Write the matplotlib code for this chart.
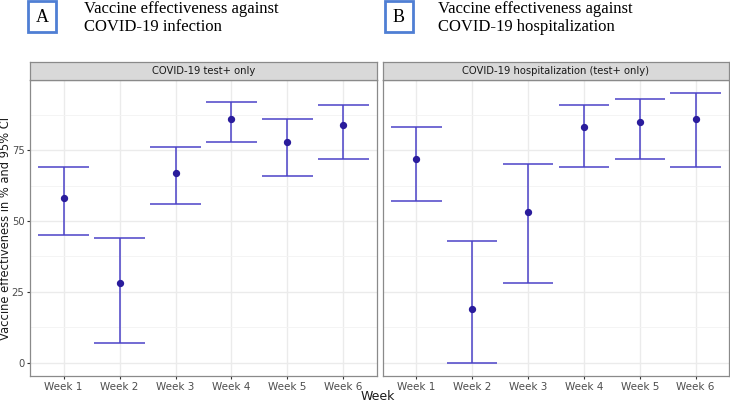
import matplotlib.pyplot as plt
from matplotlib.patches import Rectangle

# data
weeks = ["Week 1", "Week 2", "Week 3", "Week 4", "Week 5", "Week 6"]

inf_est = [58, 28, 67, 86, 78, 84]
inf_lo = [45, 7, 56, 78, 66, 72]
inf_hi = [69, 44, 76, 92, 86, 91]

hosp_est = [72, 19, 53, 83, 85, 86]
hosp_lo = [57, 0, 28, 69, 72, 69]
hosp_hi = [83, 43, 70, 91, 93, 95]

strips = ["COVID-19 test+ only", "COVID-19 hospitalization (test+ only)"]
letters = ["A", "B"]
headers = ["Vaccine effectiveness against\nCOVID-19 infection",
           "Vaccine effectiveness against\nCOVID-19 hospitalization"]

line_col = "#4b42c8"
pt_col = "#2a1c9c"

W, H = 730, 403
fig = plt.figure(figsize=(W / 100, H / 100), dpi=100)

def fx(px):
    return px / W

def fy(px):
    return 1 - px / H

panels = [(30, 377, inf_est, inf_lo, inf_hi), (383, 729, hosp_est, hosp_lo, hosp_hi)]
top, bot = 80, 376

for i, (x0, x1, est, lo, hi) in enumerate(panels):
    ax = fig.add_axes([fx(x0), fy(bot), fx(x1 - x0), (bot - top) / H])
    xs = list(range(1, len(weeks) + 1))
    for x, l, h in zip(xs, lo, hi):
        ax.vlines(x, l, h, color=line_col, lw=1.1, zorder=3)
        ax.hlines([l, h], x - 0.45, x + 0.45, color=line_col, lw=1.1, zorder=3)
    ax.scatter(xs, est, s=18, color=pt_col, zorder=4)
    ax.set_xlim(0.4, 6.6)
    ax.set_ylim(-4.75, 99.75)
    ax.set_xticks(xs)
    ax.set_xticklabels(weeks, fontsize=7.5, color="#4d4d4d")
    ax.set_yticks([0, 25, 50, 75])
    ax.set_yticks([12.5, 37.5, 62.5, 87.5], minor=True)
    ax.tick_params(axis="both", which="major", length=2.5, color="#333333", pad=1.5)
    ax.tick_params(axis="y", which="minor", length=0)
    if i == 0:
        ax.set_yticklabels(["0", "25", "50", "75"], fontsize=7.2, color="#4d4d4d")
    else:
        ax.set_yticklabels([])
        ax.tick_params(axis="y", which="major", length=0)
    ax.grid(True, which="major", color="#ebebeb", lw=1.0)
    ax.grid(True, which="minor", axis="y", color="#f3f3f3", lw=0.6)
    ax.set_axisbelow(True)
    for s in ax.spines.values():
        s.set_color("#8a8a8a")
        s.set_linewidth(0.9)

    # facet strip
    sax = fig.add_axes([fx(x0), fy(top), fx(x1 - x0), 18 / H])
    sax.set_facecolor("#d9d9d9")
    sax.set_xticks([])
    sax.set_yticks([])
    for s in sax.spines.values():
        s.set_color("#8a8a8a")
        s.set_linewidth(0.9)
    sax.text(0.5, 0.5, strips[i], ha="center", va="center", fontsize=7.2, color="#1a1a1a")

# panel letters and headers
box_x = [28, 385]
txt_x = [84, 438]
for i in range(2):
    bx = box_x[i]
    fig.patches.append(Rectangle((fx(bx), fy(32)), fx(28), 31 / H, transform=fig.transFigure,
                                 fill=False, edgecolor="#4f7fd4", lw=2))
    fig.text(fx(bx + 14), fy(17), letters[i], ha="center", va="center",
             family="Liberation Serif", fontsize=13)
    fig.text(fx(txt_x[i]), fy(1), headers[i], ha="left", va="top",
             family="Liberation Serif", fontsize=12, linespacing=1.15)

fig.text(fx(6), fy((top + bot) / 2), "Vaccine effectiveness in % and 95% CI", rotation=90,
         ha="center", va="center", fontsize=8.3, color="#1a1a1a")
fig.text(fx(378), fy(397), "Week", ha="center", va="center", fontsize=9, color="#1a1a1a")

fig.savefig("out.png", dpi=100)
